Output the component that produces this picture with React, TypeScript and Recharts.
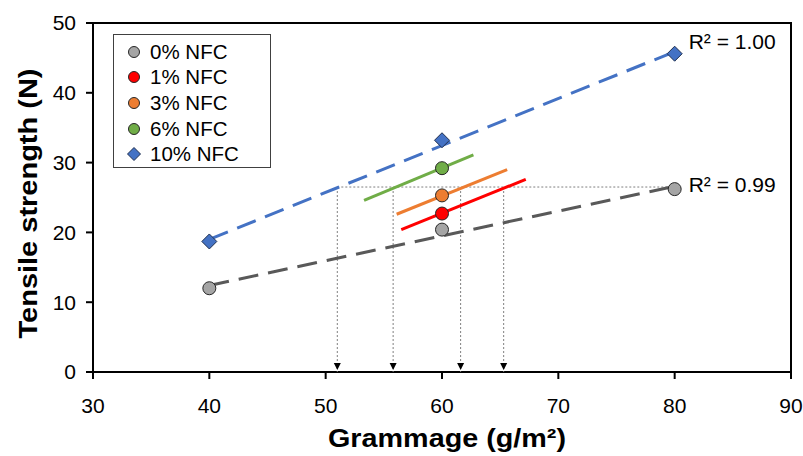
import React from 'react'
import { ComposedChart, Scatter, XAxis, YAxis, ReferenceArea, LabelList } from 'recharts'

// measured points
const grammage = [40, 60, 80]
const nfc0 = [12.0, 20.4, 26.2]
const nfc10 = [18.7, 33.2, 45.6]
const nfc1 = [22.7]
const nfc3 = [25.3]
const nfc6 = [29.2]

// trend lines (start / end)
const fit0X = [40, 80]
const fit0Y = [12.4, 26.6]
const fit10X = [40, 80]
const fit10Y = [19.0, 45.9]
const fit1X = [56.5, 67.2]
const fit1Y = [20.4, 27.6]
const fit3X = [56.1, 65.6]
const fit3Y = [22.6, 29.0]
const fit6X = [53.3, 62.7]
const fit6Y = [24.6, 31.1]

// dotted guides
const guideY = 26.5
const guideXs = [51.0, 55.8, 61.6, 65.3]
const guideEndX = 80

const xTicks = [30, 40, 50, 60, 70, 80, 90]
const yTicks = [0, 10, 20, 30, 40, 50]

const legendItems = ['0% NFC', '1% NFC', '3% NFC', '6% NFC', '10% NFC']
const legendColors = ['#A5A5A5', '#FF0000', '#ED7D31', '#70AD47', '#4472C4']

const r2Texts = ['R² = 1.00', 'R² = 0.99']

const FONT = '"Liberation Sans", Arial, sans-serif'

const pts = (xs: number[], ys: number[]) => xs.map((x, i) => ({ x, y: ys[i] }))
const at60 = (ys: number[]) => ys.map(y => ({ x: 60, y }))

const circle = (fill: string) => (p: any) => (
  <circle cx={p.cx} cy={p.cy} r={6.5} fill={fill} stroke="#262626" strokeWidth={1} />
)
const diamond = (p: any) => (
  <path
    d={`M${p.cx},${p.cy - 7.5} L${p.cx + 7.5},${p.cy} L${p.cx},${p.cy + 7.5} L${p.cx - 7.5},${p.cy} Z`}
    fill="#4472C4"
    stroke="#1F2F4F"
    strokeWidth={1}
  />
)
const none = () => <g />
const arrow = (p: any) => (
  <path d={`M${p.cx - 3.5},${p.cy - 9} L${p.cx + 3.5},${p.cy - 9} L${p.cx},${p.cy - 2} Z`} fill="#000" />
)

const r2Label = (props: any) => {
  const { x, y, width, index, value } = props
  const cx = x + (width || 0) / 2
  const shift = index === 0 ? 0 : 7
  return (
    <text x={cx + 14} y={y + shift} fontFamily={FONT} fontSize={21} fill="#000">
      {value}
    </text>
  )
}

const xTitle = (props: any) => {
  const vb = props.viewBox
  const cx = vb.x + vb.width / 2 + 5
  return (
    <text x={cx} y={447} textAnchor="middle" fontFamily={FONT} fontSize={25} fontWeight={700} fill="#000" textLength={238} lengthAdjust="spacingAndGlyphs">
      Grammage (g/m²)
    </text>
  )
}

const yTitle = (props: any) => {
  const vb = props.viewBox
  const cy = vb.y + vb.height / 2 + 6
  return (
    <text x={37} y={cy} transform={`rotate(-90 37 ${cy})`} textAnchor="middle" fontFamily={FONT} fontSize={25} fontWeight={700} fill="#000" textLength={270} lengthAdjust="spacingAndGlyphs">
      Tensile strength (N)
    </text>
  )
}

function LegendBox() {
  return (
    <div
      style={{
        position: 'absolute',
        left: 113,
        top: 34,
        width: 158,
        height: 134,
        border: '1px solid #404040',
        background: '#fff',
        fontFamily: FONT,
        fontSize: 20.5,
        boxSizing: 'border-box',
      }}
    >
      {legendItems.map((name, i) => (
        <div key={name} style={{ position: 'absolute', left: 12, top: 4.5 + i * 25.7, height: 24, display: 'flex', alignItems: 'center' }}>
          <svg width={16} height={16} style={{ marginRight: 8 }}>
            {i < 4 ? (
              <circle cx={8} cy={8} r={5.5} fill={legendColors[i]} stroke="#262626" strokeWidth={1} />
            ) : (
              <path d="M8,1.5 L14.5,8 L8,14.5 L1.5,8 Z" fill={legendColors[i]} stroke="#1F2F4F" strokeWidth={1} />
            )}
          </svg>
          <span>{name}</span>
        </div>
      ))}
    </div>
  )
}

export default function App() {
  const dotted = { stroke: '#7F7F7F', strokeWidth: 1, strokeDasharray: '2 2' }
  const tickStyle = { fontSize: 21, fill: '#000', fontFamily: FONT }
  return (
    <div style={{ position: 'absolute', left: 0, top: 0, width: 803, height: 456, background: '#fff' }}>
      <ComposedChart width={803} height={456} margin={{ top: 23, right: 12, bottom: 24, left: 0 }}>
        <XAxis
          type="number"
          dataKey="x"
          domain={[30, 90]}
          ticks={xTicks}
          allowDataOverflow
          stroke="#000"
          strokeWidth={2}
          tick={tickStyle}
          tickSize={7}
          tickMargin={19}
          height={60}
          label={xTitle}
        />
        <YAxis
          type="number"
          dataKey="y"
          domain={[0, 50]}
          ticks={yTicks}
          allowDataOverflow
          stroke="#000"
          strokeWidth={2}
          tick={tickStyle}
          tickSize={7}
          tickMargin={10}
          width={93}
          label={yTitle}
        />
        <ReferenceArea x1={30} x2={90} y1={0} y2={50} fill="none" stroke="#000" strokeWidth={2} ifOverflow="visible" />

        {/* dotted guides */}
        <Scatter data={[{ x: guideXs[0], y: guideY }, { x: guideEndX, y: guideY }]} line={dotted} shape={none} isAnimationActive={false} />
        {guideXs.map(gx => (
          <Scatter key={gx} data={[{ x: gx, y: guideY }, { x: gx, y: 0 }]} line={dotted} shape={none} isAnimationActive={false} />
        ))}
        <Scatter data={guideXs.map(x => ({ x, y: 0 }))} shape={arrow} isAnimationActive={false} />

        {/* trend lines */}
        <Scatter data={pts(fit0X, fit0Y)} line={{ stroke: '#595959', strokeWidth: 3, strokeDasharray: '20 10' }} shape={none} isAnimationActive={false} />
        <Scatter data={pts(fit10X, fit10Y)} line={{ stroke: '#4472C4', strokeWidth: 3, strokeDasharray: '20 10' }} shape={none} isAnimationActive={false} />
        <Scatter data={pts(fit1X, fit1Y)} line={{ stroke: '#FF0000', strokeWidth: 3 }} shape={none} isAnimationActive={false} />
        <Scatter data={pts(fit3X, fit3Y)} line={{ stroke: '#ED7D31', strokeWidth: 3 }} shape={none} isAnimationActive={false} />
        <Scatter data={pts(fit6X, fit6Y)} line={{ stroke: '#70AD47', strokeWidth: 3 }} shape={none} isAnimationActive={false} />

        {/* points */}
        <Scatter name="0% NFC" data={pts(grammage, nfc0)} shape={circle('#A5A5A5')} isAnimationActive={false} />
        <Scatter name="1% NFC" data={at60(nfc1)} shape={circle('#FF0000')} isAnimationActive={false} />
        <Scatter name="3% NFC" data={at60(nfc3)} shape={circle('#ED7D31')} isAnimationActive={false} />
        <Scatter name="6% NFC" data={at60(nfc6)} shape={circle('#70AD47')} isAnimationActive={false} />
        <Scatter name="10% NFC" data={pts(grammage, nfc10)} shape={diamond} isAnimationActive={false} />

        {/* R² labels */}
        <Scatter
          data={[{ x: 80, y: nfc10[2], label: r2Texts[0] }, { x: 80, y: nfc0[2], label: r2Texts[1] }]}
          shape={none}
          isAnimationActive={false}
        >
          <LabelList dataKey="label" content={r2Label} />
        </Scatter>
      </ComposedChart>
      <LegendBox />
    </div>
  )
}
